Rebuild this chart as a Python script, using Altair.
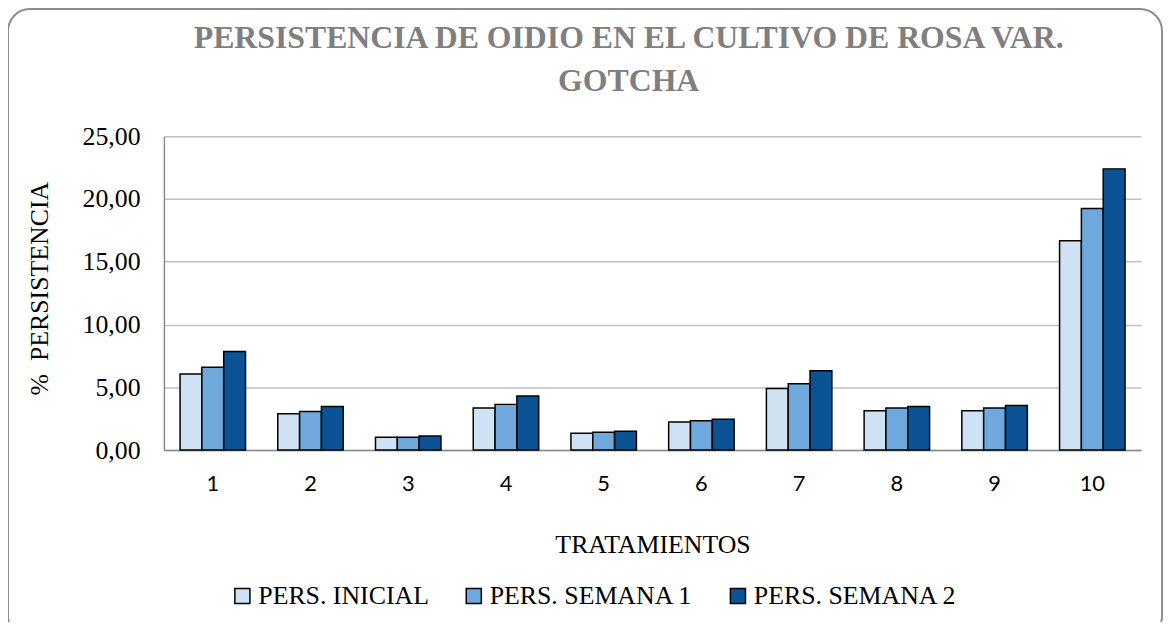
import altair as alt
import pandas as pd

tratamientos = ["1", "2", "3", "4", "5", "6", "7", "8", "9", "10"]
series = ["PERS. INICIAL", "PERS. SEMANA 1", "PERS. SEMANA 2"]
pers_inicial = [6.05, 2.90, 1.02, 3.35, 1.34, 2.23, 4.90, 3.14, 3.14, 16.67]
pers_semana1 = [6.60, 3.07, 1.02, 3.64, 1.42, 2.33, 5.29, 3.36, 3.36, 19.24]
pers_semana2 = [7.86, 3.48, 1.12, 4.30, 1.49, 2.46, 6.31, 3.48, 3.55, 22.40]
colores = ["#cfe2f3", "#6fa8dc", "#0b5394"]

rows = []
for s, vals in zip(series, [pers_inicial, pers_semana1, pers_semana2]):
    for t, v in zip(tratamientos, vals):
        rows.append({"trat": t, "serie": s, "valor": v})
df = pd.DataFrame(rows)

W, H = 984, 316

bars = alt.Chart(df).mark_bar(stroke="black", strokeWidth=1.5).encode(
    x=alt.X(
        "trat:N",
        sort=tratamientos,
        scale=alt.Scale(paddingInner=0.33, paddingOuter=0.165),
        axis=alt.Axis(
            title="TRATAMIENTOS",
            titleFont="Liberation Serif",
            titleFontSize=26,
            titleFontWeight="normal",
            titleColor="black",
            titleY=95,
            titleBaseline="middle",
            labelAngle=0,
            labelFont="Lato",
            labelFontSize=22,
            labelColor="black",
            labelPadding=24,
            ticks=False,
            domainColor="#8c8c8c",
            domainWidth=1.5,
            grid=False,
        ),
    ),
    xOffset=alt.XOffset("serie:N", sort=series),
    y=alt.Y(
        "valor:Q",
        scale=alt.Scale(domain=[0, 25], nice=False),
        axis=alt.Axis(
            title="%\u00a0\u00a0PERSISTENCIA",
            titleFont="Liberation Serif",
            titleFontSize=26,
            titleFontWeight="normal",
            titleColor="black",
            titleAngle=-90,
            titleX=-125,
            titleY=H / 2 - 5,
            titleAlign="center",
            titleBaseline="middle",
            values=[0, 5, 10, 15, 20, 25],
            labelExpr="replace(format(datum.value, '.2f'), '.', ',')",
            labelFont="Liberation Serif",
            labelFontSize=26,
            labelColor="black",
            labelPadding=24,
            ticks=False,
            domainColor="#8c8c8c",
            domainWidth=1.5,
            gridColor="#c0c0c0",
            gridWidth=1.5,
        ),
    ),
    color=alt.Color(
        "serie:N",
        sort=series,
        scale=alt.Scale(domain=series, range=colores),
        legend=alt.Legend(
            title=None,
            orient="none",
            legendX=66,
            legendY=450,
            direction="horizontal",
            symbolType="square",
            symbolSize=230,
            symbolStrokeColor="black",
            symbolStrokeWidth=1.5,
            labelFont="Liberation Serif",
            labelFontSize=26,
            labelColor="black",
            labelOffset=3,
            labelLimit=0,
            columnPadding=32,
        ),
    ),
)

border = alt.Chart(pd.DataFrame({"k": [0]})).mark_rect(
    fill=None, stroke="#8c8c8c", strokeWidth=2, cornerRadius=22
).encode(
    x=alt.value(-157),
    x2=alt.value(1005),
    y=alt.value(-128),
    y2=alt.value(505),
)

chart = alt.layer(border, bars).properties(
    width=W,
    height=H,
    autosize=alt.AutoSizeParams(type="none"),
    padding={"left": 157, "top": 127, "right": 24, "bottom": 171},
    title=alt.TitleParams(
        text=["PERSISTENCIA DE OIDIO EN EL CULTIVO DE ROSA VAR.", "GOTCHA"],
        font="Liberation Serif",
        fontSize=32,
        fontWeight="bold",
        color="#7f7f7f",
        anchor="middle",
        lineHeight=43,
        offset=0,
        dy=90,
        dx=-24,
    ),
).configure_view(stroke=None)

chart.save("out.html", embed_options={"renderer": "svg", "actions": False})
